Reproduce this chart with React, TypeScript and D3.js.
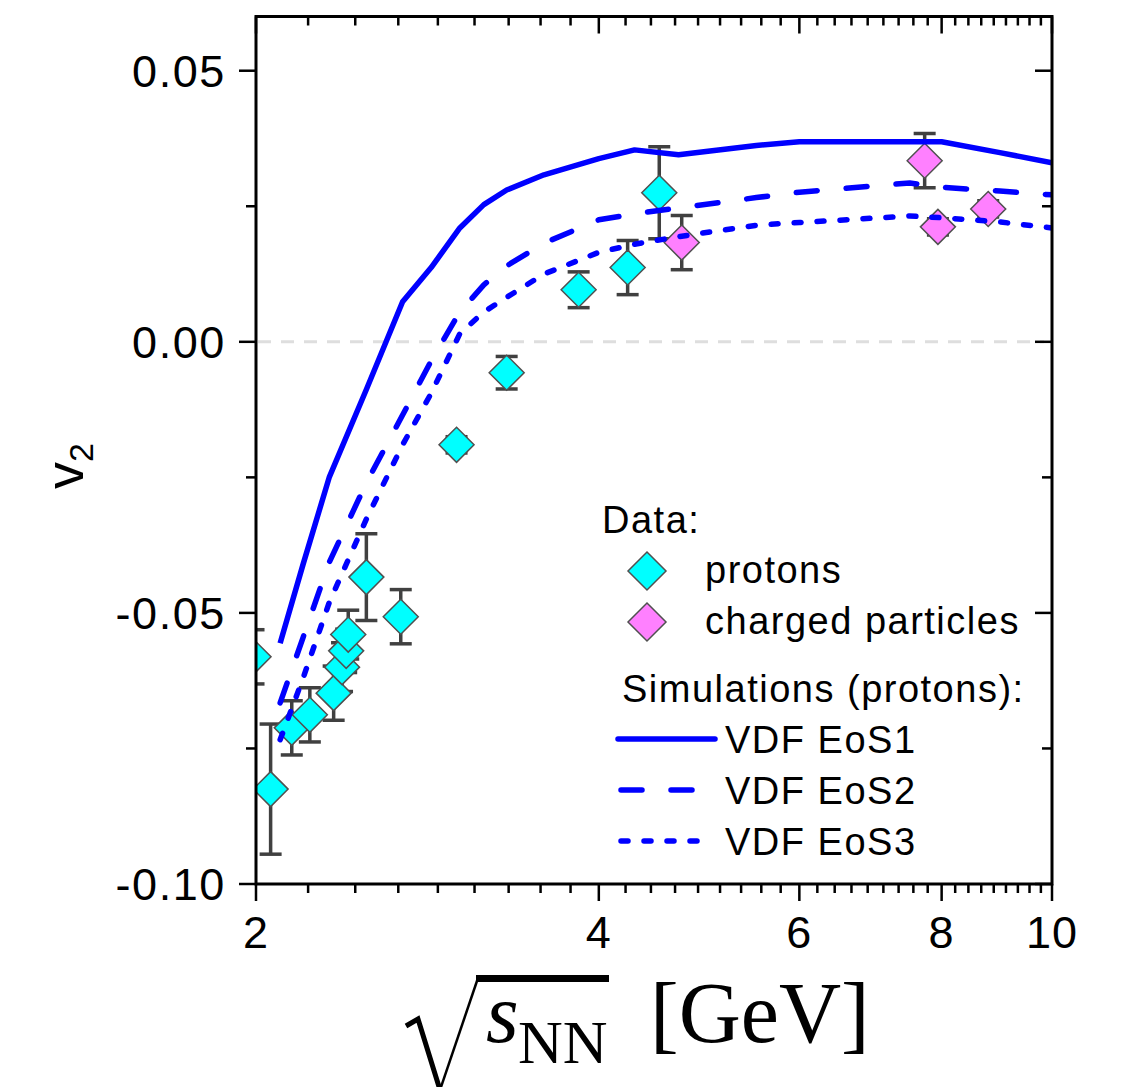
import React from "react";
import * as d3 from "d3";

// ---------- data ----------
const protonE = [1.99, 2.06, 2.15, 2.23, 2.34, 2.38, 2.4, 2.41, 2.5, 2.68, 3.0, 3.32, 3.84, 4.24, 4.52];
const protonV2 = [-0.0581, -0.0825, -0.0712, -0.0688, -0.0648, -0.06, -0.057, -0.054, -0.0434, -0.0507, -0.019, -0.0057, 0.0096, 0.0137, 0.0275];
const protonErr = [0.005, 0.012, 0.005, 0.005, 0.005, 0.0045, 0.004, 0.0045, 0.008, 0.005, 0.0015, 0.003, 0.0033, 0.005, 0.0085];

const chargedE = [4.73, 7.73, 7.94, 8.79];
const chargedV2 = [0.0183, 0.0334, 0.0212, 0.0245];
const chargedErr = [0.005, 0.005, 0.0015, 0.0015];

const simE = [2.1, 2.2, 2.32, 2.5, 2.69, 2.85, 3.02, 3.17, 3.32, 3.58, 4.0, 4.3, 4.7, 5.5, 6.0, 7.5, 8.0, 9.0, 10.0];
const eos1 = [-0.0556, -0.041, -0.0249, -0.0088, 0.0074, 0.0137, 0.021, 0.0253, 0.028, 0.0308, 0.0338, 0.0354, 0.0345, 0.0362, 0.0369, 0.0369, 0.0369, 0.0349, 0.033];
const eos2 = [-0.0666, -0.0545, -0.0406, -0.026, -0.0135, -0.0035, 0.0055, 0.0105, 0.014, 0.0182, 0.0225, 0.0236, 0.0247, 0.0266, 0.0276, 0.0293, 0.0285, 0.0278, 0.0271];
const eos3 = [-0.0734, -0.062, -0.048, -0.0327, -0.019, -0.0095, 0.0015, 0.0055, 0.0082, 0.0125, 0.0165, 0.018, 0.0194, 0.0215, 0.022, 0.0232, 0.0229, 0.0221, 0.021];

const xMajorTicks = [2, 4, 6, 8, 10];
const xTickLabels = ["2", "4", "6", "8", "10"];
const yMajorTicks = [-0.1, -0.05, 0, 0.05];
const yTickLabels = ["-0.10", "-0.05", "0.00", "0.05"];
const yMinorTicks = [-0.075, -0.025, 0.025];
const simNames = ["VDF EoS1", "VDF EoS2", "VDF EoS3"];
const dataNames = ["protons", "charged particles"];

// ---------- layout ----------
const W = 1129, H = 1087;
const L = 256, R = 1052, T = 16.5, B = 884;
const x = d3.scaleLog().domain([2, 10]).range([L, R]);
const y = d3.scaleLinear().domain([-0.1, 0.06]).range([B, T]);

const BLUE = "#0000ff";
const CYAN = "#00ffff";
const MAG = "#ff80ff";
const ERR = "#404040";
const SANS = "'Liberation Sans', Arial, sans-serif";
const SERIF = "'Liberation Serif', 'Times New Roman', serif";

const xMinor: number[] = [];
for (let i = 0; i < xMajorTicks.length - 1; i++) {
  const a = xMajorTicks[i], b = xMajorTicks[i + 1];
  for (let k = 1; k <= 8; k++) xMinor.push(a + ((b - a) * k) / 9);
}

const diamond = (cx: number, cy: number, h: number) =>
  `M${cx},${cy - h}L${cx + h},${cy}L${cx},${cy + h}L${cx - h},${cy}Z`;

const line = d3
  .line<number>()
  .x((_, i) => x(simE[i]))
  .y((d) => y(d));

const sims = [
  { vals: eos1, dash: undefined as string | undefined },
  { vals: eos2, dash: "21,29" },
  { vals: eos3, dash: "7,16" },
];

function Points({ E, V, Er, fill }: { E: number[]; V: number[]; Er: number[]; fill: string }) {
  return (
    <g>
      {E.map((e, i) => {
        const cx = x(e);
        const y1 = y(V[i] + Er[i]);
        const y2 = y(V[i] - Er[i]);
        return (
          <g key={"e" + i} stroke={ERR} strokeWidth={3.5}>
            <line x1={cx} x2={cx} y1={y1} y2={y2} />
            <line x1={cx - 11} x2={cx + 11} y1={y1} y2={y1} />
            <line x1={cx - 11} x2={cx + 11} y1={y2} y2={y2} />
          </g>
        );
      })}
      {E.map((e, i) => (
        <path key={"d" + i} d={diamond(x(e), y(V[i]), 17.5)} fill={fill} stroke="#505050" strokeWidth={1.5} />
      ))}
    </g>
  );
}

export default function App() {
  const tickW = 2.5;
  return (
    <svg width={W} height={H} style={{ position: "absolute", left: 0, top: 0, background: "#fff" }}>
      <defs>
        <clipPath id="plot">
          <rect x={L} y={T} width={R - L} height={B - T} />
        </clipPath>
      </defs>
      <rect x={0} y={0} width={W} height={H} fill="#fff" />

      {/* zero line */}
      <line x1={L + 2} x2={R - 8} y1={y(0)} y2={y(0)} stroke="#dedede" strokeWidth={3} strokeDasharray="13,10" />

      <g clipPath="url(#plot)">
        <Points E={protonE} V={protonV2} Er={protonErr} fill={CYAN} />
        <Points E={chargedE} V={chargedV2} Er={chargedErr} fill={MAG} />
        {sims.map((s, i) => (
          <path
            key={i}
            d={line(s.vals) || ""}
            fill="none"
            stroke={BLUE}
            strokeWidth={5.5}
            strokeDasharray={s.dash}
            strokeLinecap={s.dash ? "round" : "butt"}
            strokeLinejoin="round"
          />
        ))}
      </g>

      {/* frame */}
      <rect x={L} y={T} width={R - L} height={B - T} fill="none" stroke="#000" strokeWidth={3} />

      {/* x ticks bottom (outward) and top (inward) */}
      {xMajorTicks.map((t, i) => (
        <g key={"xm" + i} stroke="#000" strokeWidth={tickW}>
          <line x1={x(t)} x2={x(t)} y1={B} y2={B + 17} />
          <line x1={x(t)} x2={x(t)} y1={T} y2={T + 17} />
        </g>
      ))}
      {xMinor.map((t, i) => (
        <g key={"xn" + i} stroke="#000" strokeWidth={tickW}>
          <line x1={x(t)} x2={x(t)} y1={B} y2={B + 9} />
          <line x1={x(t)} x2={x(t)} y1={T} y2={T + 9} />
        </g>
      ))}
      {xMajorTicks.map((t, i) => (
        <text key={"xl" + i} x={x(t)} y={948} textAnchor="middle" fontFamily={SANS} fontSize={45} letterSpacing={1}>
          {xTickLabels[i]}
        </text>
      ))}

      {/* y ticks left (outward) and right (inward) */}
      {yMajorTicks.map((t, i) => (
        <g key={"ym" + i} stroke="#000" strokeWidth={tickW}>
          <line x1={L - 17} x2={L} y1={y(t)} y2={y(t)} />
          <line x1={R - 17} x2={R} y1={y(t)} y2={y(t)} />
        </g>
      ))}
      {yMinorTicks.map((t, i) => (
        <g key={"yn" + i} stroke="#000" strokeWidth={tickW}>
          <line x1={L - 10} x2={L} y1={y(t)} y2={y(t)} />
          <line x1={R - 10} x2={R} y1={y(t)} y2={y(t)} />
        </g>
      ))}
      {yMajorTicks.map((t, i) => (
        <text key={"yl" + i} x={226} y={y(t) + 16} textAnchor="end" fontFamily={SANS} fontSize={45} letterSpacing={1.6}>
          {yTickLabels[i]}
        </text>
      ))}

      {/* y label */}
      <text transform="translate(83,466) rotate(-90)" textAnchor="middle" fontFamily={SANS} fontSize={54}>
        v<tspan fontSize={34} dy={10}>2</tspan>
      </text>

      {/* x label: sqrt(s_NN) [GeV] */}
      <path d="M406,1026 L418,1019 L440,1090" fill="none" stroke="#000" strokeWidth={5} strokeLinejoin="miter" />
      <path d="M440,1090 L478,978" fill="none" stroke="#000" strokeWidth={2.5} />
      <rect x={476} y={975} width={133} height={7} fill="#000" />
      <text x={486} y={1042} fontFamily={SERIF} fontSize={84} fontStyle="italic">s</text>
      <text x={518} y={1063} fontFamily={SERIF} fontSize={62}>NN</text>
      <text x={650} y={1042} fontFamily={SERIF} fontSize={86}>[GeV]</text>

      {/* legend */}
      <g fontFamily={SANS} fontSize={38} letterSpacing={1.5}>
        <text x={602} y={533}>Data:</text>
        <path d={diamond(647, 571, 19)} fill={CYAN} stroke="#505050" strokeWidth={1.5} />
        <text x={705} y={583}>{dataNames[0]}</text>
        <path d={diamond(647, 622, 19)} fill={MAG} stroke="#505050" strokeWidth={1.5} />
        <text x={705} y={634}>{dataNames[1]}</text>
        <text x={622} y={702}>Simulations (protons):</text>
        {sims.map((s, i) => {
          const ly = 739 + i * 51;
          return (
            <g key={"lg" + i}>
              <line
                x1={s.dash ? 621 : 618}
                x2={s.dash ? 713 : 715}
                y1={ly}
                y2={ly}
                stroke={BLUE}
                strokeWidth={5.5}
                strokeDasharray={s.dash}
                strokeLinecap="round"
              />
              <text x={725} y={ly + 14}>{simNames[i]}</text>
            </g>
          );
        })}
      </g>
    </svg>
  );
}
